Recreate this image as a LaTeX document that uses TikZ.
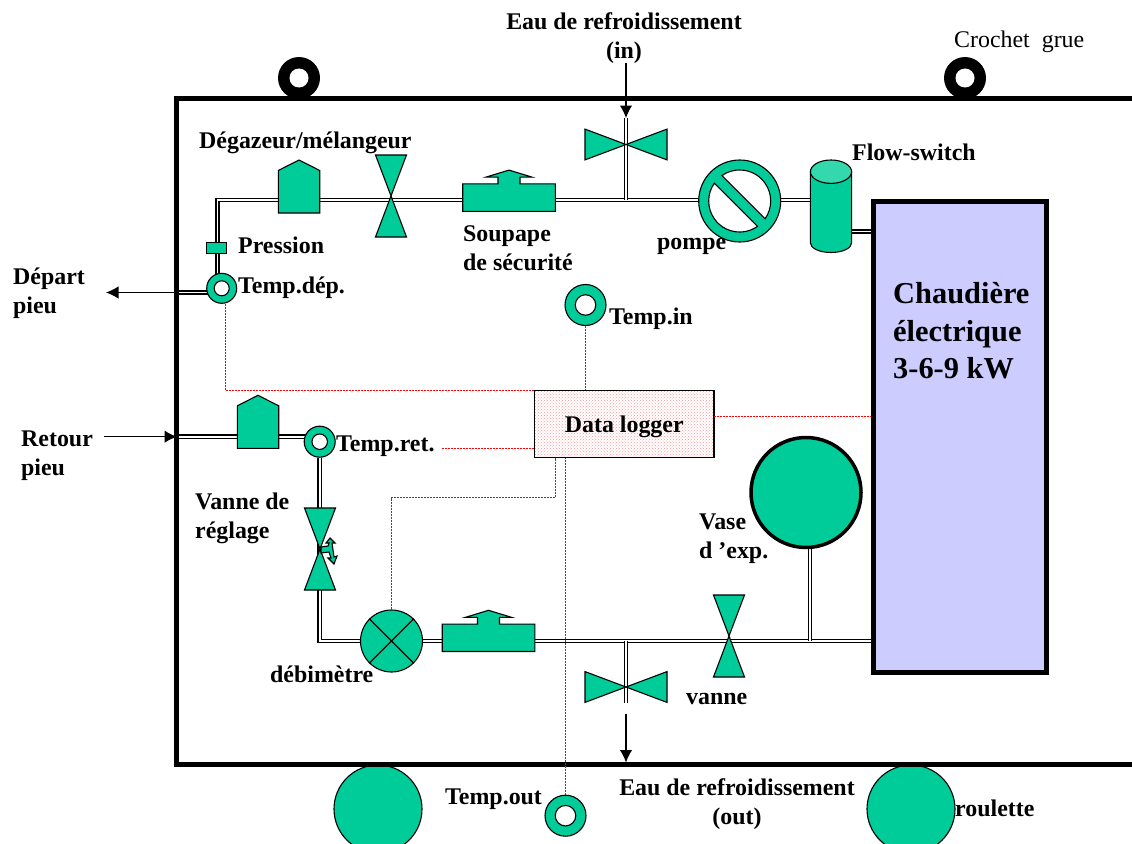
\documentclass[tikz,border=0pt]{standalone}
\usepackage{xcolor}
\usepackage{fontspec}
\setmainfont{Liberation Serif}
\usepackage{tikz}
\usetikzlibrary{arrows.meta,backgrounds,patterns}
\definecolor{vert}{HTML}{00CC99}
\definecolor{vertclair}{HTML}{33D9AD}
\definecolor{chaud}{HTML}{CCCCFF}
\tikzset{
    pics/vvalve/.style={code={
        \coordinate (-c) at (0,0);
        \draw[comp] (-15.5,-41) -- (15.5,-41) -- (-15.5,41) -- (15.5,41) -- cycle;
    }},
    pics/hvalve/.style={code={
        \coordinate (-c) at (0,0);
        \draw[comp] (-41,-15.4) -- (-41,15.4) -- (41,-15.4) -- (41,15.4) -- cycle;
    }},
    pics/house/.style={code={
        \coordinate (-c) at (0,0);
        \draw[comp] (-20.7,26.5) -- (20.7,26.5) -- (20.7,-16) -- (0,-26.5) -- (-20.7,-16) -- cycle;
    }},
    pics/soupape/.style={code={
        \coordinate (-c) at (0,0);
        \draw[comp] (-46.3,13.7) -- (46.3,13.7) -- (46.3,-13.7) -- (11,-13.7) -- (11,-20.5) -- (23,-20.5)
            -- (0,-27.5) -- (-23,-20.5) -- (-11,-20.5) -- (-11,-13.7) -- (-46.3,-13.7) -- cycle;
    }},
    pics/pompe/.style={code={
        \coordinate (-c) at (0,0);
        \draw[comp] (0,0) circle (41);
        \draw[comp,fill=white] (-125:31) arc[start angle=-125,end angle=35,radius=31] -- cycle;
        \draw[comp,fill=white] (55:31) arc[start angle=55,end angle=215,radius=31] -- cycle;
    }},
    pics/bouteille/.style={code={
        \coordinate (-c) at (0,0);
        \draw[comp] (-20.6,-34.3) -- (-20.6,37) arc[start angle=180,end angle=0,x radius=20.6,y radius=9.5] -- (20.6,-34.3) -- cycle;
        \draw[comp,fill=vertclair] (0,-34.3) ellipse[x radius=20.6,y radius=11.7];
    }}
}
\begin{document}
\begin{tikzpicture}[
    x=1pt, y=-1pt,
    comp/.style={draw=black, fill=vert, line width=1.1pt},
    ring/.style={comp, circle, inner sep=0pt, minimum size=#1, path picture={
        \draw[line width=1.1pt, fill=white] (path picture bounding box.center) circle (#1/4);}},
    hook/.style={circle, fill=black, inner sep=0pt, minimum size=42pt, path picture={
        \fill[white] (path picture bounding box.center) circle (9.5pt);}},
    roue/.style={comp, circle, inner sep=0pt, minimum size=88pt},
    pipe/.style={draw=black, double=white, line width=1.6pt, double distance=1.7pt},
    arrow/.style={-{Latex[length=12.5pt,width=12.5pt]}, line width=1.2pt},
    signal/.style={draw=red, dash pattern=on 2pt off 1pt, line width=1.2pt},
    lbl/.style={font=\bfseries\fontsize{23.9}{29}\selectfont, inner sep=0pt, anchor=west, align=left}
]
\useasboundingbox (0,0) rectangle (1132,843);

% roues et crochets
\node[roue] (roueg) at (378,809) {};
\node[roue] (roued) at (911,809) {};
\node[hook] (hookg) at (299,78) {};
\node[hook] (hookd) at (965,78) {};
\draw[line width=5.5pt, line join=miter] (1132,98.5) -- (176.5,98.5) -- (176.5,764.5) -- (1132,764.5);

% composants
\node[comp, draw=black, fill=chaud, line width=5pt, minimum width=172.5pt, minimum height=470.5pt, inner sep=0pt] (chaudiere) at (959.75,436.75) {};
\node[draw=black, line width=1.2pt, pattern=crosshatch dots, pattern color=red!40, minimum width=179.5pt, minimum height=67pt, inner sep=0pt,
    text height=17pt, text depth=0pt, font=\bfseries\fontsize{23.9}{29}\selectfont] (logger) at (624.25,423.75) {Data logger};
\pic (degaz) at (299,186.5) {house};
\pic (vdegaz) at (391,196) {vvalve};
\pic (soupa) at (509,197.6) {soupape};
\pic (vin) at (626,144.5) {hvalve};
\pic (pompe) at (739.7,201) {pompe};
\pic (flow) at (831,206) {bouteille};
\node[comp, inner sep=0pt, minimum width=19.3pt, minimum height=11pt] (press) at (216.4,247.8) {};
\node[ring=30pt] (tdep) at (221.7,288.3) {};
\node[ring=41pt] (tin) at (585.5,305) {};
\node[ring=31pt] (tret) at (319.7,441.7) {};
\node[ring=41pt] (tout) at (565.5,815.7) {};
\pic (degret) at (258,421.8) {house};
\pic (vreg) at (320,549) {vvalve};
\draw[comp] (321,547) -- (328,546) -- (329,543) -- (326,543) -- (330,538) -- (335,543) -- (332,543)
    -- (334,557) -- (337,556) -- (334,564) -- (328,558) -- (331,558) -- (329,552) -- (321,553) -- cycle;
\node[comp, circle, inner sep=0pt, minimum size=62pt] (debit) at (391.5,641) {};
\draw[line width=1.1pt] (debit.north west) -- (debit.south east);
\draw[line width=1.1pt] (debit.north east) -- (debit.south west);
\pic (soupb) at (488.5,637.8) {soupape};
\pic (vout) at (626,687) {hvalve};
\pic (vanne) at (729,636) {vvalve};
\node[comp, circle, line width=3.5pt, inner sep=0pt, minimum size=110pt] (vase) at (806,492.5) {};

% extremites libres
\coordinate (ctop) at (217.5,200);
\coordinate (cbas) at (319.7,641);
\coordinate (depf) at (177,292.5);
\coordinate (depa) at (106,292.5);
\coordinate (retf) at (177,436.7);
\coordinate (reta) at (104,436.7);
\coordinate (einh) at (626,63);
\coordinate (einb) at (626,118);
\coordinate (eoub) at (626,703);
\coordinate (eouh) at (626,714);
\coordinate (eouf) at (626,762.5);
\coordinate (flbas) at (831,231.5);
\coordinate (vapied) at (810,530);
\coordinate (sdep) at (225.5,304);
\coordinate (sdepb) at (225.5,390.5);
\coordinate (sret) at (442,448.5);
\coordinate (sdebit) at (555.5,497.5);
\coordinate (schaud) at (714,416.5);

% tuyaux
\begin{scope}[on background layer]
\draw[pipe] (ctop |- tdep) -- (ctop) -- (flow-c |- ctop);
\draw[pipe] (depf) -- (depf -| tdep);
\draw[pipe] (flbas) -- (flbas -| chaudiere.west);
\draw[pipe] (einb) -- (einb |- ctop);
\draw[pipe] (retf) -- (retf -| tret);
\draw[pipe] (tret) -- (cbas) -- (cbas -| chaudiere.west);
\draw[pipe] (eoub) -- (eoub |- cbas);
\draw[pipe] (vapied) -- (vapied |- cbas);
\end{scope}

% fleches
\draw[arrow] (depf) -- (depa);
\draw[arrow] (reta) -- (retf);
\draw[arrow] (einh) -- (einb);
\draw[arrow] (eouh) -- (eouf);

% signaux
\draw[signal] (sdep) -- (sdepb) -- (sdepb -| logger.west);
\draw[signal] (tin.south) -- (tin.south |- logger.north);
\draw[signal] (sret) -- (sret -| logger.west);
\draw[signal] (debit.north) |- (sdebit) -- (sdebit |- logger.south);
\draw[signal] (tout.north) -- (tout.north |- logger.south);
\draw[signal] (schaud) -- (schaud -| chaudiere.west);

% textes
\node[lbl, align=center, anchor=center] (teauin) at (624,38) {Eau de refroidissement\\(in)};
\node[lbl, font=\fontsize{23.9}{29}\selectfont] (tcroch) at (954,42) {Crochet\ \ grue};
\node[lbl] (tdegaz) at (199,143) {Dégazeur/mélangeur};
\node[lbl] (tpress) at (238,245) {Pression};
\node[lbl] (ttdep) at (238,288) {Temp.dép.};
\node[lbl] (tsoup) at (463,248) {Soupape\\de sécurité};
\node[lbl] (tpomp) at (657,246) {pompe};
\node[lbl] (tflow) at (852,152) {Flow-switch};
\node[lbl] (tdepart) at (13,293) {Départ\\pieu};
\node[lbl] (ttin) at (609,319) {Temp.in};
\node[lbl] (tretour) at (21,456) {Retour\\pieu};
\node[lbl] (ttret) at (336,446) {Temp.ret.};
\node[lbl] (tvreg) at (195,518) {Vanne de\\réglage};
\node[lbl] (tvase) at (699,539) {Vase\\d ’exp.};
\node[lbl] (tdebit) at (270,674) {débimètre};
\node[lbl] (tvanne) at (686,699) {vanne};
\node[lbl] (ttout) at (445,799) {Temp.out};
\node[lbl, align=center, anchor=center] (teauout) at (737,804) {Eau de refroidissement\\(out)};
\node[lbl] (troul) at (955,808) {roulette};
\node[lbl, font=\bfseries\fontsize{30.4}{37.5}\selectfont] (tchaud) at (893,331) {Chaudière\\électrique\\3-6-9 kW};
\end{tikzpicture}
\end{document}
